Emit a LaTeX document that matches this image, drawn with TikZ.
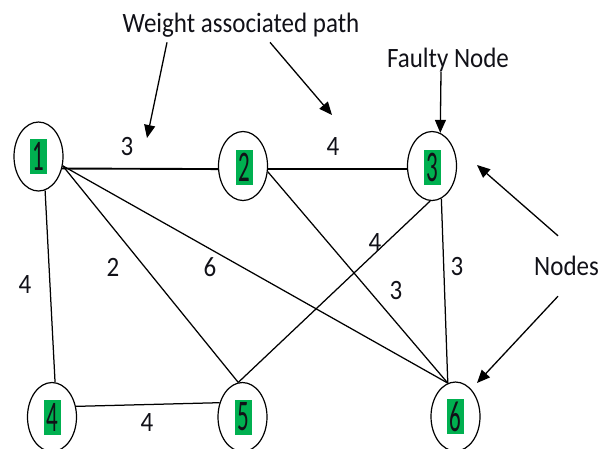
\documentclass[tikz,border=0pt]{standalone}
\usepackage{fontspec}
\setmainfont{Carlito}
\usetikzlibrary{shapes.geometric,arrows.meta}
\definecolor{hl}{RGB}{0,176,80}
\definecolor{ink}{RGB}{17,17,24}
\newcommand{\lbl}[1]{\scalebox{1}[1.12]{#1}}
\newcommand{\dig}[1]{\scalebox{1}[1.9]{#1}}
\begin{document}
\begin{tikzpicture}[x=1pt,y=-1pt,
  vert/.style={draw, ellipse, line width=1.2pt, minimum width=49pt, minimum height=69pt, inner sep=0pt},
  hbox/.style={fill=hl, text=ink, minimum width=17pt, minimum height=35pt, inner sep=0pt, font=\fontsize{23}{23}\selectfont},
  wlab/.style={text=ink, font=\fontsize{25}{25}\selectfont, inner sep=0pt},
  edge/.style={line width=1.25pt},
  thick edge/.style={line width=1.9pt},
  arr/.style={line width=1.3pt, -{Triangle[length=13pt,width=11pt]}}
]
\useasboundingbox (0,0) rectangle (609,448);
% vertices
\node[vert] (n1) at (38.5,156.5) {};
\node[hbox] (g1) at (38.5,156.5) {\dig{1}};
\node[vert] (n2) at (243,166) {};
\node[hbox] (g2) at (244,167) {\dig{2}};
\node[vert] (n3) at (432,166) {};
\node[hbox] (g3) at (432.5,167) {\dig{3}};
\node[vert] (n4) at (52,417) {};
\node[hbox] (g4) at (52,417) {\dig{4}};
\node[vert] (n5) at (242.5,417) {};
\node[hbox] (g5) at (243.5,417) {\dig{5}};
\node[vert] (n6) at (455.5,416.5) {};
\node[hbox] (g6) at (455.5,416.5) {\dig{6}};
% edges
\draw[thick edge] (n1.-27) -- (n2.187);
\draw[thick edge] (n2.-7) -- (n3.187);
\draw[edge] (n1.-79) -- (n4.85);
\draw[edge] (n1.-21) -- (n5.97.5);
\draw[edge] (n1.-21) -- (n6.103.5);
\draw[edge] (n2.-13.5) -- (n6.103.5);
\draw[edge] (n3.-93) -- (n5.97.5);
\draw[edge] (n3.-74) -- (n6.103.5);
\draw[edge] (n4.24) -- (n5.148);
% weights
\node[wlab] (w12) at (127,147) {\lbl{3}};
\node[wlab] (w23) at (333,147) {\lbl{4}};
\node[wlab] (w14) at (25,285) {\lbl{4}};
\node[wlab] (w15) at (113,267) {\lbl{2}};
\node[wlab] (w16) at (210,267) {\lbl{6}};
\node[wlab] (w35) at (375,243) {\lbl{4}};
\node[wlab] (w26) at (396,291) {\lbl{3}};
\node[wlab] (w36) at (457,267) {\lbl{3}};
\node[wlab] (w45) at (147,422) {\lbl{4}};
% annotations
\node[wlab] (wap) at (241,25) {\lbl{Weight associated path}};
\node[wlab] (fn) at (448,60) {\lbl{Faulty Node}};
\node[wlab, minimum height=60pt] (nd) at (566.5,266) {\lbl{Nodes}};
\coordinate (t12) at (147,138);
\coordinate (t23) at (332,115);
\coordinate (t3) at (477,165);
\coordinate (t6) at (477,383);
\draw[arr] ([xshift=-74pt,yshift=-5pt]wap.south) -- (t12);
\draw[arr] ([xshift=29pt,yshift=-5pt]wap.south) -- (t23);
\draw[arr] ([xshift=-7pt]fn.south) -- (n3.76);
\draw[arr] ([xshift=-8.5pt]nd.north) -- (t3);
\draw[arr] ([xshift=-8.5pt]nd.south) -- (t6);
\end{tikzpicture}
\end{document}
